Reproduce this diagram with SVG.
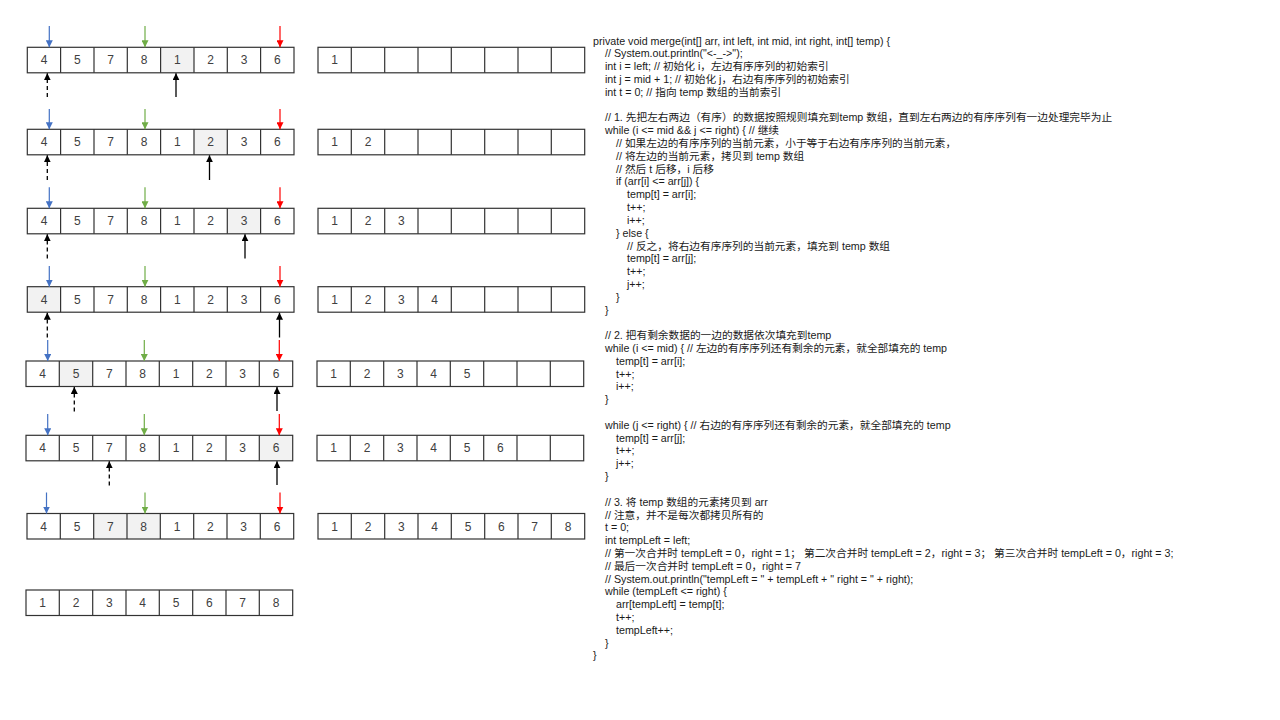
<svg xmlns="http://www.w3.org/2000/svg" xmlns:xlink="http://www.w3.org/1999/xlink" width="1280" height="720" viewBox="0 0 1280 720">
<style>
.grid{fill:none;stroke:#333;stroke-width:1.2}
.hl{fill:#F2F2F2;stroke:none}
.num{font-family:"Liberation Sans",Arial,sans-serif;font-size:12px;fill:#404040;text-anchor:middle}
.code{font-family:"Liberation Sans","Noto Sans CJK SC",sans-serif;font-size:10.7px;fill:#1a1a1a}
.ab{stroke:#4472C4;stroke-width:1.2;fill:none}
.ag{stroke:#70AD47;stroke-width:1.2;fill:none}
.ar{stroke:#FF0000;stroke-width:1.2;fill:none}
.ak{stroke:#000;stroke-width:1.3;fill:none}
.akd{stroke:#000;stroke-width:1.3;fill:none;stroke-dasharray:4 3}
</style>
<defs>
<marker id="mb" viewBox="0 0 7 7" markerWidth="7" markerHeight="7" refX="7" refY="3.5" orient="auto" markerUnits="userSpaceOnUse"><path d="M0,0 L7,3.5 L0,7z" fill="#4472C4"/></marker>
<marker id="mg" viewBox="0 0 7 7" markerWidth="7" markerHeight="7" refX="7" refY="3.5" orient="auto" markerUnits="userSpaceOnUse"><path d="M0,0 L7,3.5 L0,7z" fill="#70AD47"/></marker>
<marker id="mr" viewBox="0 0 7 7" markerWidth="7" markerHeight="7" refX="7" refY="3.5" orient="auto" markerUnits="userSpaceOnUse"><path d="M0,0 L7,3.5 L0,7z" fill="#FF0000"/></marker>
<marker id="mk" viewBox="0 0 7 7" markerWidth="7" markerHeight="7" refX="7" refY="3.5" orient="auto" markerUnits="userSpaceOnUse"><path d="M0,0 L7,3.5 L0,7z" fill="#000"/></marker>
<g id="grid"><rect class="grid" x="0" y="0" width="266.7" height="25.5"/><path class="grid" d="M33.3 0V25.5M66.7 0V25.5M100 0V25.5M133.3 0V25.5M166.7 0V25.5M200 0V25.5M233.3 0V25.5"/></g>
</defs>
<rect width="1280" height="720" fill="#fff"/>

<!-- Row 1 -->
<g id="arr1" transform="translate(27.3,47.3)">
<rect class="hl" x="133.3" y="0" width="33.3" height="25.5"/>
<use xlink:href="#grid"/>
<text class="num" x="16.7" y="17">4</text><text class="num" x="50" y="17">5</text><text class="num" x="83.3" y="17">7</text><text class="num" x="116.7" y="17">8</text><text class="num" x="150" y="17">1</text><text class="num" x="183.3" y="17">2</text><text class="num" x="216.7" y="17">3</text><text class="num" x="250" y="17">6</text>
</g>
<g id="temp1" transform="translate(318,47.3)">
<use xlink:href="#grid"/>
<text class="num" x="16.7" y="17">1</text>
</g>

<!-- Row 2 -->
<g id="arr2" transform="translate(27.3,129.3)">
<rect class="hl" x="166.7" y="0" width="33.3" height="25.5"/>
<use xlink:href="#grid"/>
<text class="num" x="16.7" y="17">4</text><text class="num" x="50" y="17">5</text><text class="num" x="83.3" y="17">7</text><text class="num" x="116.7" y="17">8</text><text class="num" x="150" y="17">1</text><text class="num" x="183.3" y="17">2</text><text class="num" x="216.7" y="17">3</text><text class="num" x="250" y="17">6</text>
</g>
<g id="temp2" transform="translate(318,129.3)">
<use xlink:href="#grid"/>
<text class="num" x="16.7" y="17">1</text><text class="num" x="50" y="17">2</text>
</g>

<!-- Row 3 -->
<g id="arr3" transform="translate(27.3,208.3)">
<rect class="hl" x="200" y="0" width="33.3" height="25.5"/>
<use xlink:href="#grid"/>
<text class="num" x="16.7" y="17">4</text><text class="num" x="50" y="17">5</text><text class="num" x="83.3" y="17">7</text><text class="num" x="116.7" y="17">8</text><text class="num" x="150" y="17">1</text><text class="num" x="183.3" y="17">2</text><text class="num" x="216.7" y="17">3</text><text class="num" x="250" y="17">6</text>
</g>
<g id="temp3" transform="translate(318,208.3)">
<use xlink:href="#grid"/>
<text class="num" x="16.7" y="17">1</text><text class="num" x="50" y="17">2</text><text class="num" x="83.3" y="17">3</text>
</g>

<!-- Row 4 -->
<g id="arr4" transform="translate(27.3,286.7)">
<rect class="hl" x="0" y="0" width="33.3" height="25.5"/>
<use xlink:href="#grid"/>
<text class="num" x="16.7" y="17">4</text><text class="num" x="50" y="17">5</text><text class="num" x="83.3" y="17">7</text><text class="num" x="116.7" y="17">8</text><text class="num" x="150" y="17">1</text><text class="num" x="183.3" y="17">2</text><text class="num" x="216.7" y="17">3</text><text class="num" x="250" y="17">6</text>
</g>
<g id="temp4" transform="translate(318,286.7)">
<use xlink:href="#grid"/>
<text class="num" x="16.7" y="17">1</text><text class="num" x="50" y="17">2</text><text class="num" x="83.3" y="17">3</text><text class="num" x="116.7" y="17">4</text>
</g>

<!-- Row 5 -->
<g id="arr5" transform="translate(26,361)">
<rect class="hl" x="33.3" y="0" width="33.3" height="25.5"/>
<use xlink:href="#grid"/>
<text class="num" x="16.7" y="17">4</text><text class="num" x="50" y="17">5</text><text class="num" x="83.3" y="17">7</text><text class="num" x="116.7" y="17">8</text><text class="num" x="150" y="17">1</text><text class="num" x="183.3" y="17">2</text><text class="num" x="216.7" y="17">3</text><text class="num" x="250" y="17">6</text>
</g>
<g id="temp5" transform="translate(317,361)">
<use xlink:href="#grid"/>
<text class="num" x="16.7" y="17">1</text><text class="num" x="50" y="17">2</text><text class="num" x="83.3" y="17">3</text><text class="num" x="116.7" y="17">4</text><text class="num" x="150" y="17">5</text>
</g>

<!-- Row 6 -->
<g id="arr6" transform="translate(26,435.3)">
<rect class="hl" x="233.3" y="0" width="33.3" height="25.5"/>
<use xlink:href="#grid"/>
<text class="num" x="16.7" y="17">4</text><text class="num" x="50" y="17">5</text><text class="num" x="83.3" y="17">7</text><text class="num" x="116.7" y="17">8</text><text class="num" x="150" y="17">1</text><text class="num" x="183.3" y="17">2</text><text class="num" x="216.7" y="17">3</text><text class="num" x="250" y="17">6</text>
</g>
<g id="temp6" transform="translate(317,435.3)">
<use xlink:href="#grid"/>
<text class="num" x="16.7" y="17">1</text><text class="num" x="50" y="17">2</text><text class="num" x="83.3" y="17">3</text><text class="num" x="116.7" y="17">4</text><text class="num" x="150" y="17">5</text><text class="num" x="183.3" y="17">6</text>
</g>

<!-- Row 7 -->
<g id="arr7" transform="translate(27,513.5)">
<rect class="hl" x="66.7" y="0" width="66.7" height="25.5"/>
<use xlink:href="#grid"/>
<text class="num" x="16.7" y="17">4</text><text class="num" x="50" y="17">5</text><text class="num" x="83.3" y="17">7</text><text class="num" x="116.7" y="17">8</text><text class="num" x="150" y="17">1</text><text class="num" x="183.3" y="17">2</text><text class="num" x="216.7" y="17">3</text><text class="num" x="250" y="17">6</text>
</g>
<g id="temp7" transform="translate(318,513.5)">
<use xlink:href="#grid"/>
<text class="num" x="16.7" y="17">1</text><text class="num" x="50" y="17">2</text><text class="num" x="83.3" y="17">3</text><text class="num" x="116.7" y="17">4</text><text class="num" x="150" y="17">5</text><text class="num" x="183.3" y="17">6</text><text class="num" x="216.7" y="17">7</text><text class="num" x="250" y="17">8</text>
</g>

<!-- Final -->
<g id="result" transform="translate(26,590)">
<use xlink:href="#grid"/>
<text class="num" x="16.7" y="17">1</text><text class="num" x="50" y="17">2</text><text class="num" x="83.3" y="17">3</text><text class="num" x="116.7" y="17">4</text><text class="num" x="150" y="17">5</text><text class="num" x="183.3" y="17">6</text><text class="num" x="216.7" y="17">7</text><text class="num" x="250" y="17">8</text>
</g>

<g id="connectors">
<line class="ab" x1="49.3" y1="26" x2="49.3" y2="47.3" marker-end="url(#mb)"/>
<line class="ag" x1="145" y1="26" x2="145" y2="47.3" marker-end="url(#mg)"/>
<line class="ar" x1="280" y1="26" x2="280" y2="47.3" marker-end="url(#mr)"/>
<line class="akd" x1="47.3" y1="97" x2="47.3" y2="73.3" marker-end="url(#mk)"/>
<line class="ak" x1="176" y1="97" x2="176" y2="73.3" marker-end="url(#mk)"/>

<line class="ab" x1="49.3" y1="109" x2="49.3" y2="129.3" marker-end="url(#mb)"/>
<line class="ag" x1="145" y1="109" x2="145" y2="129.3" marker-end="url(#mg)"/>
<line class="ar" x1="280" y1="109" x2="280" y2="129.3" marker-end="url(#mr)"/>
<line class="akd" x1="47.3" y1="180" x2="47.3" y2="155.3" marker-end="url(#mk)"/>
<line class="ak" x1="209.5" y1="180" x2="209.5" y2="155.3" marker-end="url(#mk)"/>

<line class="ab" x1="49.3" y1="187.3" x2="49.3" y2="208.3" marker-end="url(#mb)"/>
<line class="ag" x1="145" y1="187.3" x2="145" y2="208.3" marker-end="url(#mg)"/>
<line class="ar" x1="280" y1="187.3" x2="280" y2="208.3" marker-end="url(#mr)"/>
<line class="akd" x1="47.3" y1="258.5" x2="47.3" y2="234.3" marker-end="url(#mk)"/>
<line class="ak" x1="245" y1="258.5" x2="245" y2="234.3" marker-end="url(#mk)"/>

<line class="ab" x1="49.3" y1="266" x2="49.3" y2="286.7" marker-end="url(#mb)"/>
<line class="ag" x1="145" y1="266" x2="145" y2="286.7" marker-end="url(#mg)"/>
<line class="ar" x1="280" y1="266" x2="280" y2="286.7" marker-end="url(#mr)"/>
<line class="akd" x1="47.3" y1="337.5" x2="47.3" y2="312.7" marker-end="url(#mk)"/>
<line class="ak" x1="279.5" y1="337.5" x2="279.5" y2="312.7" marker-end="url(#mk)"/>

<line class="ab" x1="47.7" y1="340" x2="47.7" y2="361" marker-end="url(#mb)"/>
<line class="ag" x1="144.3" y1="340" x2="144.3" y2="361" marker-end="url(#mg)"/>
<line class="ar" x1="279.3" y1="340" x2="279.3" y2="361" marker-end="url(#mr)"/>
<line class="akd" x1="74.3" y1="411.5" x2="74.3" y2="387" marker-end="url(#mk)"/>
<line class="ak" x1="277" y1="411" x2="277" y2="387" marker-end="url(#mk)"/>

<line class="ab" x1="47.7" y1="414" x2="47.7" y2="435.3" marker-end="url(#mb)"/>
<line class="ag" x1="144.3" y1="414" x2="144.3" y2="435.3" marker-end="url(#mg)"/>
<line class="ar" x1="279.3" y1="414" x2="279.3" y2="435.3" marker-end="url(#mr)"/>
<line class="akd" x1="109.3" y1="485.5" x2="109.3" y2="461.3" marker-end="url(#mk)"/>
<line class="ak" x1="277" y1="485" x2="277" y2="461.3" marker-end="url(#mk)"/>

<line class="ab" x1="46.5" y1="492.5" x2="46.5" y2="513.5" marker-end="url(#mb)"/>
<line class="ag" x1="145" y1="492.5" x2="145" y2="513.5" marker-end="url(#mg)"/>
<line class="ar" x1="280" y1="492.5" x2="280" y2="513.5" marker-end="url(#mr)"/>
</g>

<g id="code">
<text class="code" x="593" y="44.5">private void merge(int[] arr, int left, int mid, int right, int[] temp) {</text>
<text class="code" x="605" y="57.3">// System.out.println("&lt;-_-&gt;");</text>
<text class="code" x="605" y="70.1">int i = left; // 初始化 i，左边有序序列的初始索引</text>
<text class="code" x="605" y="82.9">int j = mid + 1; // 初始化 j，右边有序序列的初始索引</text>
<text class="code" x="605" y="95.7">int t = 0; // 指向 temp 数组的当前索引</text>
<text class="code" x="605" y="121.4">// 1. 先把左右两边（有序）的数据按照规则填充到temp 数组，直到左右两边的有序序列有一边处理完毕为止</text>
<text class="code" x="605" y="134.2">while (i &lt;= mid &amp;&amp; j &lt;= right) { // 继续</text>
<text class="code" x="616" y="147">// 如果左边的有序序列的当前元素，小于等于右边有序序列的当前元素，</text>
<text class="code" x="616" y="159.8">// 将左边的当前元素，拷贝到 temp 数组</text>
<text class="code" x="616" y="172.6">// 然后 t 后移，i 后移</text>
<text class="code" x="616" y="185.4">if (arr[i] &lt;= arr[j]) {</text>
<text class="code" x="627" y="198.2">temp[t] = arr[i];</text>
<text class="code" x="627" y="211">t++;</text>
<text class="code" x="627" y="223.8">i++;</text>
<text class="code" x="616" y="236.7">} else {</text>
<text class="code" x="627" y="249.5">// 反之，将右边有序序列的当前元素，填充到 temp 数组</text>
<text class="code" x="627" y="262.3">temp[t] = arr[j];</text>
<text class="code" x="627" y="275.1">t++;</text>
<text class="code" x="627" y="287.9">j++;</text>
<text class="code" x="616" y="300.7">}</text>
<text class="code" x="605" y="313.5">}</text>
<text class="code" x="605" y="339.1">// 2. 把有剩余数据的一边的数据依次填充到temp</text>
<text class="code" x="605" y="351.9">while (i &lt;= mid) { // 左边的有序序列还有剩余的元素，就全部填充的 temp</text>
<text class="code" x="616" y="364.8">temp[t] = arr[i];</text>
<text class="code" x="616" y="377.6">t++;</text>
<text class="code" x="616" y="390.4">i++;</text>
<text class="code" x="605" y="403.2">}</text>
<text class="code" x="605" y="428.8">while (j &lt;= right) { // 右边的有序序列还有剩余的元素，就全部填充的 temp</text>
<text class="code" x="616" y="441.6">temp[t] = arr[j];</text>
<text class="code" x="616" y="454.4">t++;</text>
<text class="code" x="616" y="467.2">j++;</text>
<text class="code" x="605" y="480">}</text>
<text class="code" x="605" y="505.7">// 3. 将 temp 数组的元素拷贝到 arr</text>
<text class="code" x="605" y="518.5">// 注意，并不是每次都拷贝所有的</text>
<text class="code" x="605" y="531.3">t = 0;</text>
<text class="code" x="605" y="544.1">int tempLeft = left;</text>
<text class="code" x="605" y="556.9">// 第一次合并时 tempLeft = 0，right = 1； 第二次合并时 tempLeft = 2，right = 3； 第三次合并时 tempLeft = 0，right = 3;</text>
<text class="code" x="605" y="569.7">// 最后一次合并时 tempLeft = 0，right = 7</text>
<text class="code" x="605" y="582.5">// System.out.println("tempLeft = " + tempLeft + " right = " + right);</text>
<text class="code" x="605" y="595.3">while (tempLeft &lt;= right) {</text>
<text class="code" x="616" y="608.1">arr[tempLeft] = temp[t];</text>
<text class="code" x="616" y="620.9">t++;</text>
<text class="code" x="616" y="633.8">tempLeft++;</text>
<text class="code" x="605" y="646.6">}</text>
<text class="code" x="593" y="659.4">}</text>
</g>
</svg>
